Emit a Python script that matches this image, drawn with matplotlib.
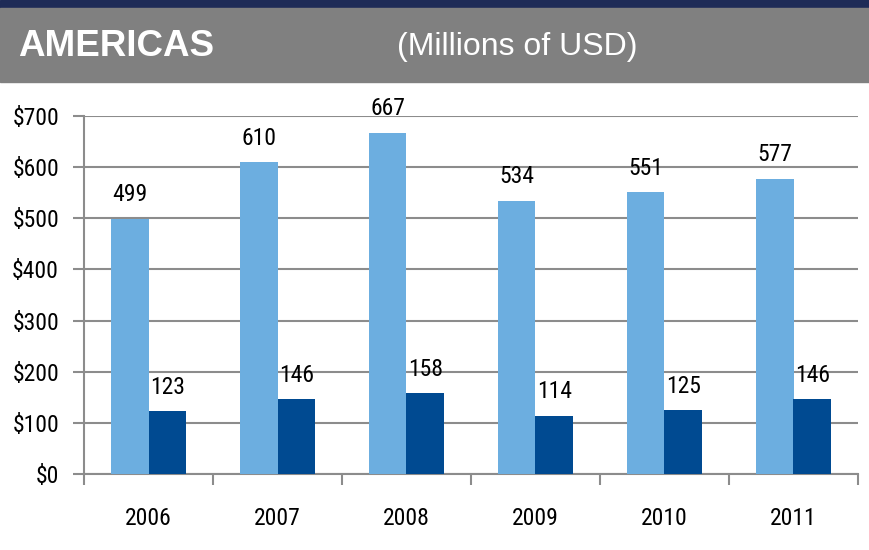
import numpy as np
import matplotlib.pyplot as plt
from matplotlib.patches import Rectangle
from matplotlib import font_manager

years = ['2006', '2007', '2008', '2009', '2010', '2011']
total = [499, 610, 667, 534, 551, 577]
part = [123, 146, 158, 114, 125, 146]
yticks = [0, 100, 200, 300, 400, 500, 600, 700]

names = {f.name for f in font_manager.fontManager.ttflist}
narrow_opts = ['Roboto Condensed', 'Open Sans Condensed', 'Liberation Sans Narrow', 'Liberation Sans']
narrow = [n for n in narrow_opts if n in names][0]
head = 'Liberation Sans'

light = '#6caee0'
dark = '#004a91'
grid = '#8c8c8c'

fig = plt.figure(figsize=(8.69, 5.5), dpi=100)

# header bands
fig.patches.append(Rectangle((0, 1 - 8/550), 1, 8/550, transform=fig.transFigure,
                             color='#1e2b57', zorder=0))
fig.patches.append(Rectangle((0, 1 - 82/550), 1, 74/550, transform=fig.transFigure,
                             color='#808080', zorder=0))
fig.text(18/869, 1 - 46/550, 'AMERICAS', color='white', fontsize=26.5, fontweight='bold',
         family=head, va='center', ha='left')
fig.text(517/869, 1 - 47/550, '(Millions of USD)', color='white', fontsize=23,
         family=head, va='center', ha='center')

ax = fig.add_axes([84/869, 76/550, 774/869, 358/550])
x = np.arange(len(years))
w = 0.29
ax.bar(x - w/2, total, w, color=light, zorder=3)
ax.bar(x + w/2, part, w, color=dark, zorder=3)

for i in range(len(years)):
    ax.annotate(str(total[i]), (x[i] - w/2, total[i]), xytext=(0, 9), textcoords='offset points',
                ha='center', va='bottom', fontsize=17, family=narrow)
    ax.annotate(str(part[i]), (x[i] + w/2, part[i]), xytext=(0, 9), textcoords='offset points',
                ha='center', va='bottom', fontsize=17, family=narrow)

ax.set_xlim(-0.5, len(years) - 0.5)
ax.set_ylim(0, 700)
ax.set_yticks(yticks)
ax.set_yticklabels(['$%d' % v for v in yticks], fontsize=17, family=narrow)
ax.set_xticks(np.arange(len(years) + 1) - 0.5)
ax.set_xticklabels([])
ax.set_xticks(x, minor=True)
ax.set_xticklabels(years, minor=True, fontsize=17, family=narrow)
ax.tick_params(axis='x', which='minor', length=0, pad=24)
ax.tick_params(axis='x', which='major', length=8, width=1.5, color=grid, direction='out')
ax.tick_params(axis='y', length=8, width=1.5, color=grid, pad=10)
ax.yaxis.grid(True, color=grid, linewidth=1.5, zorder=0)
for s in ['top', 'right']:
    ax.spines[s].set_visible(False)
ax.spines['left'].set_color(grid)
ax.spines['left'].set_linewidth(1.5)
ax.spines['bottom'].set_color(grid)
ax.spines['bottom'].set_linewidth(1.5)

fig.savefig('out.png', dpi=100)
